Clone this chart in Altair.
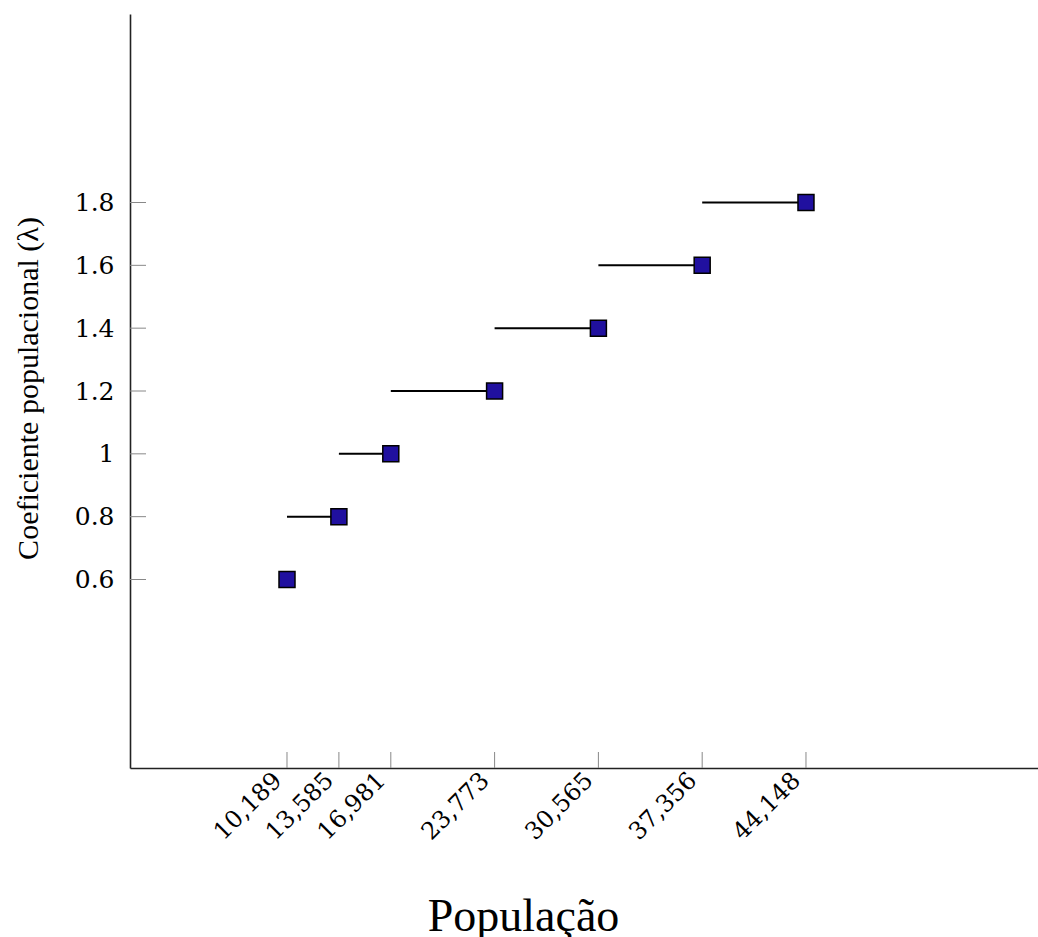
import altair as alt
import pandas as pd

# Population thresholds and the corresponding population coefficient (lambda)
population = [10189, 13585, 16981, 23773, 30565, 37356, 44148]
coefficient = [0.6, 0.8, 1.0, 1.2, 1.4, 1.6, 1.8]
y_ticks = [0.6, 0.8, 1.0, 1.2, 1.4, 1.6, 1.8]

points = pd.DataFrame({"pop": population, "coef": coefficient})

# each step: horizontal segment from the previous threshold to the current one
segments = pd.DataFrame({
    "pop_start": population[:-1],
    "pop_end": population[1:],
    "coef": coefficient[1:],
})

W, H = 908, 754
TICK_LEN = 16
serif_tick = "DejaVu Serif"
serif_title = "Liberation Serif"

x_scale = alt.Scale(domain=[-84, 59330], nice=False, zero=False)
y_scale = alt.Scale(domain=[0, 2.4], nice=False, zero=False)

x_axis = alt.Axis(
    values=population, labelExpr="format(datum.value, ',')",
    ticks=False, grid=False,
    labelAngle=-45, labelAlign="right", labelBaseline="top",
    labelPadding=0, labelOffset=-18,
    labelFont=serif_tick, labelFontSize=24, labelColor="black",
    labelOverlap=False, labelFlush=False,
    domainColor="#222", domainWidth=1.6,
    title="População", titleFont=serif_title, titleFontSize=46,
    titleFontWeight="normal", titleColor="black",
    titleX=393, titleY=162, titleAlign="center", titleBaseline="alphabetic",
)
y_axis = alt.Axis(
    values=y_ticks, labelExpr="format(datum.value, '~g')",
    ticks=False, grid=False,
    labelPadding=16, labelFont=serif_tick, labelFontSize=25, labelColor="black",
    labelOverlap=False, labelFlush=False,
    domainColor="#222", domainWidth=1.6,
    title="Coeficiente populacional (λ)", titleFont=serif_title, titleFontSize=30,
    titleFontWeight="normal", titleColor="black",
    titleAngle=-90, titleX=-93, titleY=374, titleAlign="center",
    titleBaseline="alphabetic",
)

# inward tick marks on both axes
x_ticks = alt.Chart(points).mark_rule(color="#888", strokeWidth=1).encode(
    x=alt.X("pop:Q", scale=x_scale, axis=x_axis),
    y=alt.value(H - TICK_LEN),
    y2=alt.value(H),
)
y_tick_marks = alt.Chart(pd.DataFrame({"t": y_ticks})).mark_rule(
    color="#888", strokeWidth=1
).encode(
    y=alt.Y("t:Q", scale=y_scale, axis=y_axis),
    x=alt.value(0),
    x2=alt.value(TICK_LEN),
)

steps = alt.Chart(segments).mark_rule(color="black", strokeWidth=2).encode(
    x=alt.X("pop_start:Q", scale=x_scale, axis=x_axis),
    x2="pop_end:Q",
    y=alt.Y("coef:Q", scale=y_scale, axis=y_axis),
)

squares = alt.Chart(points).mark_square(
    size=256, fill="#20109f", stroke="black", strokeWidth=1.5, opacity=1
).encode(
    x=alt.X("pop:Q", scale=x_scale, axis=x_axis),
    y=alt.Y("coef:Q", scale=y_scale, axis=y_axis),
)

chart = (
    alt.layer(x_ticks, y_tick_marks, steps, squares)
    .properties(
        width=W,
        height=H,
        autosize=alt.AutoSizeParams(type="none"),
        padding={"left": 130, "top": 14, "right": 0, "bottom": 169},
        background="white",
    )
    .configure_view(stroke=None)
)

chart.save("out.html", embed_options={"renderer": "svg", "actions": False})
